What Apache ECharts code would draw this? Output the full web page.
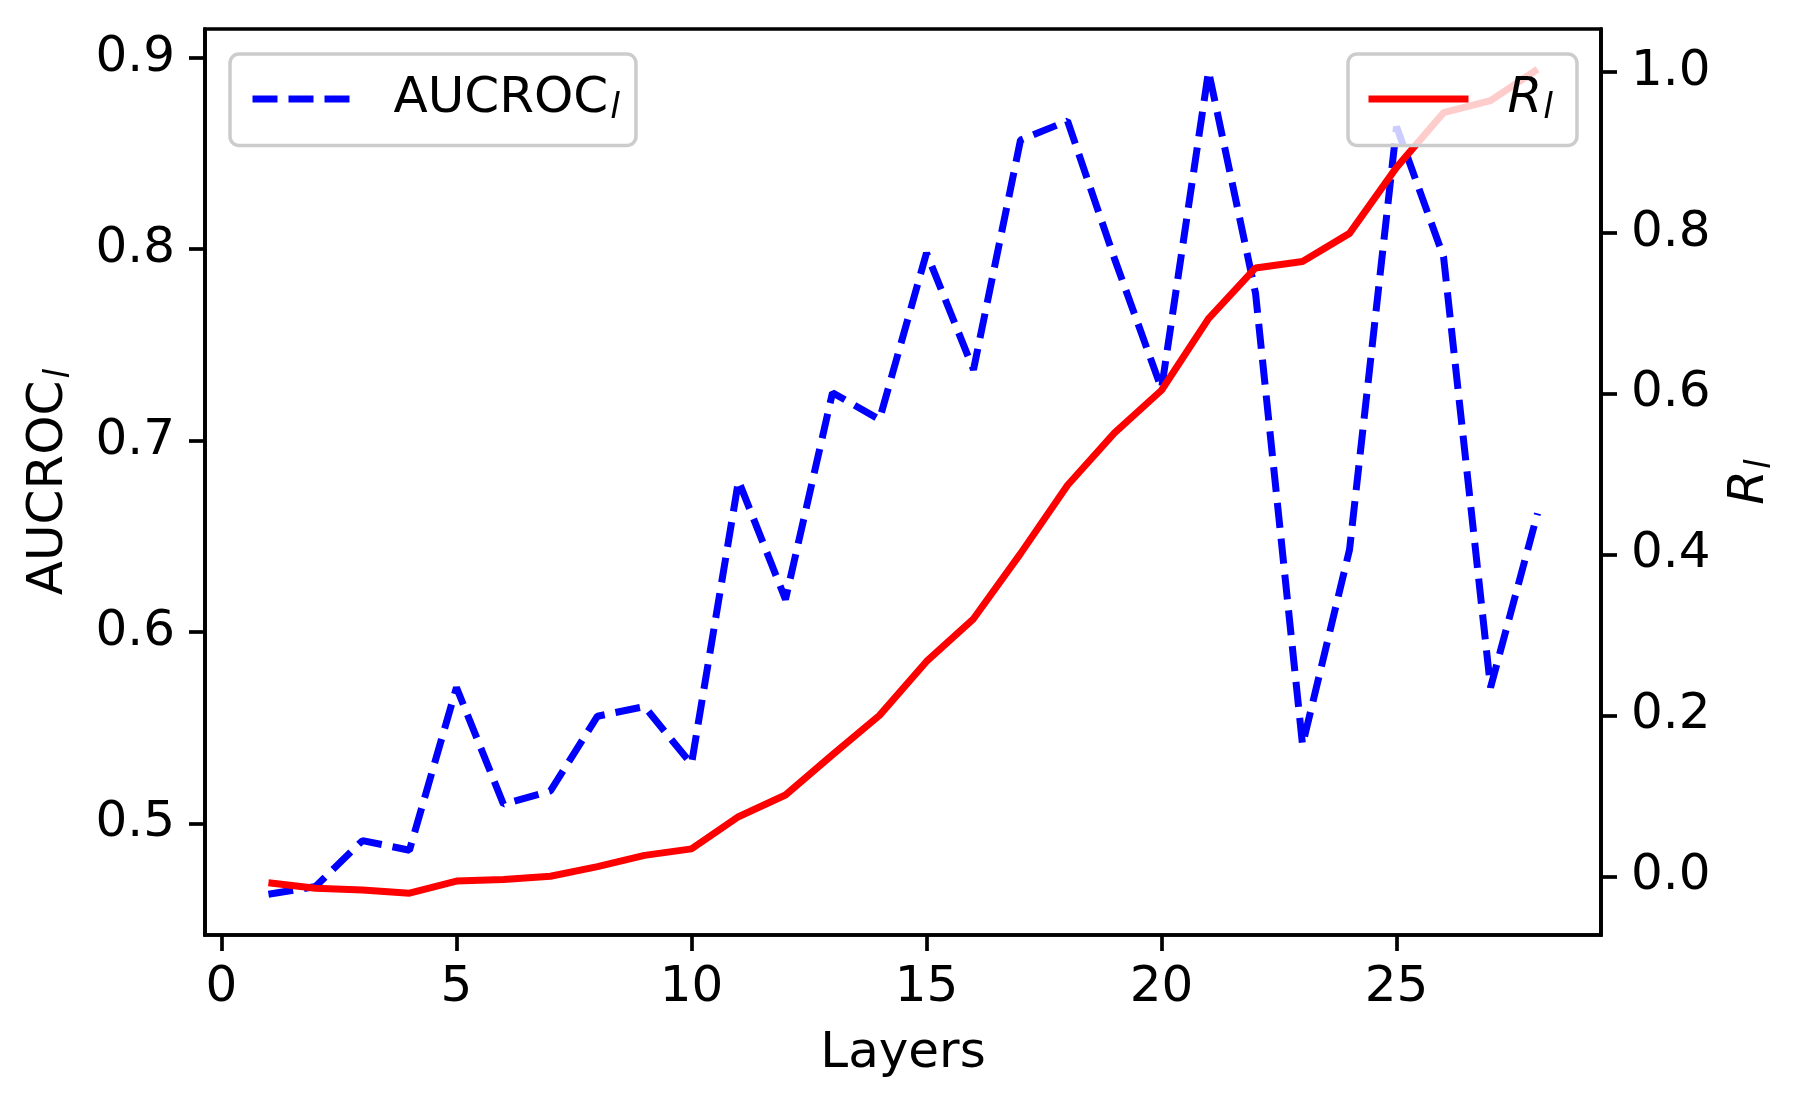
<!DOCTYPE html>
<html>
<head>
<meta charset="utf-8">
<script src="https://cdn.jsdelivr.net/npm/echarts@6/dist/echarts.min.js"></script>
<style>
  html, body { margin: 0; padding: 0; background: #fff; }
  #chart { width: 1803px; height: 1107px; }
</style>
</head>
<body>
<div id="chart"></div>
<script>
// layers on the x axis
const layers = [1, 2, 3, 4, 5, 6, 7, 8, 9, 10, 11, 12, 13, 14, 15, 16, 17, 18, 19, 20, 21, 22, 23, 24, 25, 26, 27, 28]
// AUCROC per layer (left axis)
const aucroc = [0.463, 0.467, 0.491, 0.486, 0.571, 0.510, 0.517, 0.556, 0.561, 0.531, 0.679, 0.617, 0.725, 0.711, 0.798, 0.737, 0.857, 0.867, 0.795, 0.727, 0.893, 0.777, 0.541, 0.643, 0.864, 0.796, 0.571, 0.662]
// R per layer (right axis)
const rValues = [-0.008, -0.015, -0.017, -0.021, -0.006, -0.004, 0.000, 0.012, 0.026, 0.034, 0.074, 0.101, 0.151, 0.200, 0.267, 0.320, 0.401, 0.486, 0.551, 0.604, 0.693, 0.756, 0.764, 0.799, 0.881, 0.949, 0.964, 1.003]
// tick labels
const xTicks = [0, 5, 10, 15, 20, 25]
const leftTicks = [0.5, 0.6, 0.7, 0.8, 0.9]
const rightTicks = [0.0, 0.2, 0.4, 0.6, 0.8, 1.0]

const FONT = 'DejaVu Sans'
const FS = 50
const SUB = 35
const AX = 3.7

let myChart = echarts.init(document.getElementById('chart'))

function axisCommon() {
  return {
    axisLine: { show: true, onZero: false, lineStyle: { color: '#000', width: AX } },
    splitLine: { show: false },
    axisTick: { show: true, inside: false, length: 16, lineStyle: { color: '#000', width: AX } },
    axisLabel: { color: '#000', fontFamily: FONT, fontSize: FS },
    nameTextStyle: { color: '#000', fontFamily: FONT, fontSize: FS }
  }
}

const xAxis = axisCommon()
Object.assign(xAxis, {
  type: 'value', min: -0.35, max: 29.35,
  name: 'Layers', nameLocation: 'middle', nameGap: 94
})
xAxis.axisTick.customValues = xTicks
xAxis.axisLabel.customValues = xTicks
xAxis.axisLabel.margin = 28

const yLeft = axisCommon()
Object.assign(yLeft, {
  type: 'value', position: 'left', min: 0.4417, max: 0.915,
  name: '{a|AUCROC}{s|l}', nameLocation: 'middle', nameGap: 128, nameRotate: 90
})
yLeft.axisTick.customValues = leftTicks
yLeft.axisLabel.customValues = leftTicks
yLeft.axisLabel.margin = 30
yLeft.axisLabel.formatter = v => v.toFixed(1)
yLeft.nameTextStyle.rich = {
  a: { fontFamily: FONT, fontSize: FS, color: '#000' },
  s: { fontFamily: FONT, fontSize: SUB, fontStyle: 'italic', color: '#000', padding: [20, 0, 0, 2] }
}

const yRight = axisCommon()
Object.assign(yRight, {
  type: 'value', position: 'right', min: -0.073, max: 1.053,
  name: '{i|R}{s|l}', nameLocation: 'middle', nameGap: 122, nameRotate: 90
})
yRight.axisTick.customValues = rightTicks
yRight.axisLabel.customValues = rightTicks
yRight.axisLabel.margin = 30
yRight.axisLabel.formatter = v => v.toFixed(1)
yRight.nameTextStyle.rich = {
  i: { fontFamily: FONT, fontSize: FS, fontStyle: 'italic', color: '#000' },
  s: { fontFamily: FONT, fontSize: SUB, fontStyle: 'italic', color: '#000', padding: [20, 0, 0, 1] }
}

const legendBase = {
  top: 54,
  orient: 'horizontal',
  itemWidth: 100,
  itemHeight: 20,
  backgroundColor: 'rgba(255,255,255,0.8)',
  borderColor: '#cccccc',
  borderWidth: 3.5,
  borderRadius: 9,
  selectedMode: false,
  itemStyle: { opacity: 0 },
  textStyle: { fontFamily: FONT, fontSize: FS, color: '#000' }
}

myChart.setOption({
  animation: false,
  backgroundColor: '#fff',
  grid: {
    left: 205, right: 202, top: 29, bottom: 172,
    show: true, borderColor: '#000', borderWidth: AX, backgroundColor: 'transparent'
  },
  legend: [
    Object.assign({}, legendBase, {
      left: 230,
      padding: [20, 16, 19, 19],
      data: ['AUCROC'],
      formatter: () => '{a|AUCROC}{s|l}',
      lineStyle: { color: '#0000ff', width: 7, type: [25, 11] },
      textStyle: {
        fontFamily: FONT, fontSize: FS, color: '#000',
        rich: {
          a: { fontFamily: FONT, fontSize: FS, color: '#000', padding: [0, 0, 0, 36] },
          s: { fontFamily: FONT, fontSize: SUB, fontStyle: 'italic', color: '#000', padding: [20, 0, 0, 2] }
        }
      }
    }),
    Object.assign({}, legendBase, {
      left: 1348,
      padding: [20, 24, 19, 17],
      data: ['R'],
      formatter: () => '{i|R}{s|l}',
      lineStyle: { color: '#ff0000', width: 7 },
      textStyle: {
        fontFamily: FONT, fontSize: FS, color: '#000',
        rich: {
          i: { fontFamily: FONT, fontSize: FS, fontStyle: 'italic', color: '#000', padding: [0, 0, 0, 34] },
          s: { fontFamily: FONT, fontSize: SUB, fontStyle: 'italic', color: '#000', padding: [20, 0, 0, 1] }
        }
      }
    })
  ],
  xAxis: xAxis,
  yAxis: [yLeft, yRight],
  series: [
    {
      name: 'AUCROC',
      type: 'line',
      yAxisIndex: 0,
      symbol: 'none',
      data: layers.map((l, i) => [l, aucroc[i]]),
      lineStyle: { color: '#0000ff', width: 7, type: [25, 11] },
      itemStyle: { color: '#0000ff' }
    },
    {
      name: 'R',
      type: 'line',
      yAxisIndex: 1,
      symbol: 'none',
      data: layers.map((l, i) => [l, rValues[i]]),
      lineStyle: { color: '#ff0000', width: 7 },
      itemStyle: { color: '#ff0000' }
    }
  ]
})
</script>
</body>
</html>
